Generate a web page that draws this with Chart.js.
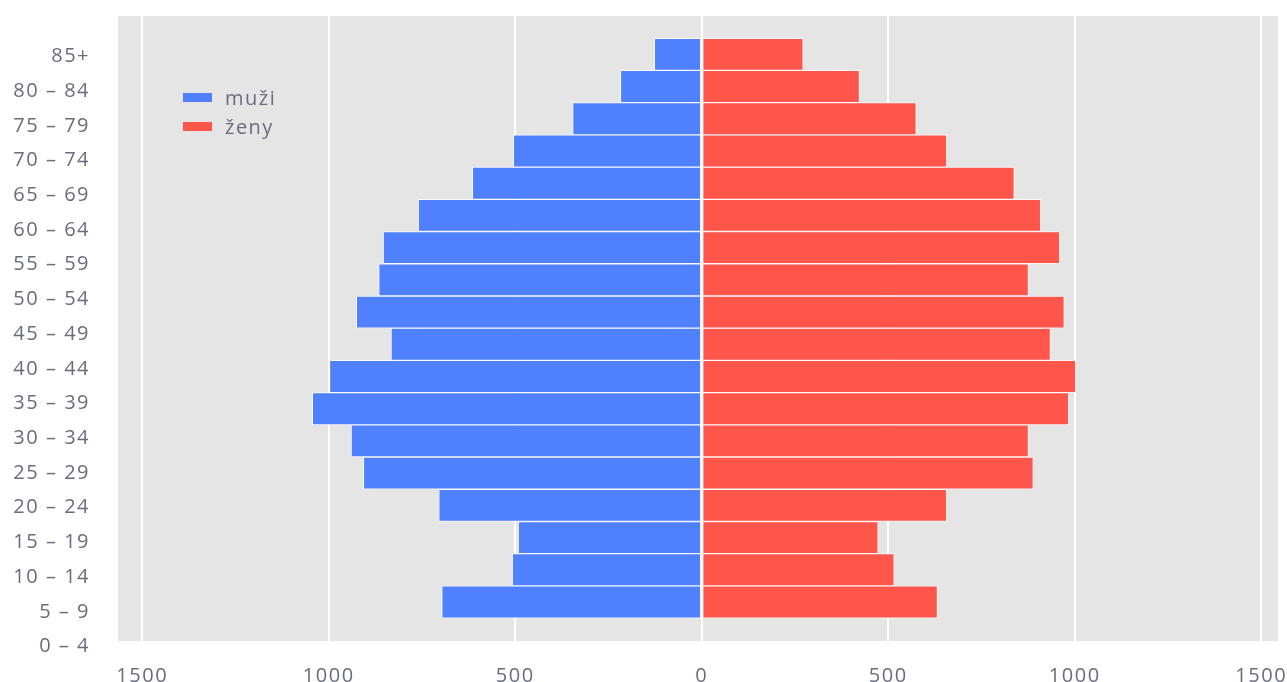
<!DOCTYPE html>
<html>
<head>
<meta charset="utf-8">
<script src="https://cdn.jsdelivr.net/npm/chart.js@4"></script>
<style>
  body { margin: 0; background: #fff; }
  #wrap { position: relative; width: 1287px; height: 682px; }
  #legend { position: absolute; left: 183px; top: 83px; font: 20px "Open Sans", sans-serif; letter-spacing: 1.5px; color: #6b6b7e; }
  #legend div { height: 29px; display: flex; align-items: center; }
  #legend span.box { display: inline-block; width: 29px; height: 9px; margin-right: 13px; }
</style>
</head>
<body>
<div id="wrap">
  <canvas id="pyramid" width="1287" height="682"></canvas>
  <div id="legend"></div>
</div>
<script>
// age groups, bottom to top
const ageGroups = ["0 – 4", "5 – 9", "10 – 14", "15 – 19", "20 – 24", "25 – 29", "30 – 34", "35 – 39",
  "40 – 44", "45 – 49", "50 – 54", "55 – 59", "60 – 64", "65 – 69", "70 – 74", "75 – 79", "80 – 84", "85+"];
const male = [697, 508, 492, 705, 907, 940, 1044, 998, 833, 926, 866, 854, 760, 615, 505, 346, 218, 127];
const female = [632, 516, 473, 657, 889, 876, 984, 1003, 935, 972, 876, 960, 909, 838, 657, 575, 423, 272];
const xTicks = [-1500, -1000, -500, 0, 500, 1000, 1500];

const seriesNames = ["muži", "ženy"];
const seriesColors = ["#4f81ff", "#ff554a"];
const textColor = "#6b6b7e";

// canvas letter spacing (the reference text is spaced out)
const spacing = {
  id: "spacing",
  beforeUpdate(chart) { chart.ctx.letterSpacing = "1.5px"; },
  beforeDraw(chart) { chart.ctx.letterSpacing = "1.5px"; }
};

// grey plot background
const plotBg = {
  id: "plotBg",
  beforeDraw(chart) {
    const { ctx, chartArea: a } = chart;
    ctx.save();
    ctx.fillStyle = "#e5e5e5";
    ctx.fillRect(a.left, a.top, a.right - a.left, a.bottom - a.top);
    ctx.restore();
  }
};

const ctx = document.getElementById("pyramid").getContext("2d");
const chart = new Chart(ctx, {
  type: "bar",
  data: {
    datasets: [
      {
        label: seriesNames[0],
        data: male.map((v, i) => ({ x: -v, y: i })),
        backgroundColor: seriesColors[0]
      },
      {
        label: seriesNames[1],
        data: female.map((v, i) => ({ x: v, y: i })),
        backgroundColor: seriesColors[1]
      }
    ]
  },
  options: {
    indexAxis: "y",
    responsive: false,
    animation: false,
    layout: { padding: { top: 16, right: 9, left: 0, bottom: 0 } },
    datasets: {
      bar: {
        categoryPercentage: 1,
        barPercentage: 1,
        borderWidth: 1,
        borderColor: "rgba(255,255,255,0.75)",
        borderSkipped: false
      }
    },
    plugins: {
      legend: { display: false },
      tooltip: { enabled: false }
    },
    scales: {
      x: {
        type: "linear",
        min: -1565,
        max: 1545,
        stacked: true,
        grid: { color: "#ffffff", lineWidth: 2, drawTicks: false },
        border: { display: false },
        afterBuildTicks(scale) { scale.ticks = xTicks.map(v => ({ value: v })); },
        afterFit(scale) {
          scale.height = 41;
          scale.paddingLeft = 0;
          scale.paddingRight = 0;
        },
        ticks: {
          padding: 23,
          color: textColor,
          font: { family: "Open Sans", size: 20 },
          callback: v => Math.abs(v)
        }
      },
      y: {
        type: "linear",
        display: false,
        stacked: true,
        offset: false,
        min: -1.21,
        max: 18.19
      },
      yl: {
        type: "category",
        position: "left",
        labels: ageGroups,
        reverse: true,
        offset: true,
        grid: { display: false, drawTicks: false },
        border: { display: false },
        afterFit(scale) {
          scale.width = 118;
          scale.paddingTop = 0;
          scale.paddingBottom = 0;
        },
        ticks: {
          padding: 28,
          labelOffset: 23,
          color: textColor,
          font: { family: "Open Sans", size: 20 }
        }
      }
    }
  },
  plugins: [spacing, plotBg]
});

// legend inside the plot, built from the datasets
const legend = document.getElementById("legend");
chart.data.datasets.forEach(ds => {
  const row = document.createElement("div");
  const box = document.createElement("span");
  box.className = "box";
  box.style.background = ds.backgroundColor;
  row.appendChild(box);
  row.appendChild(document.createTextNode(ds.label));
  legend.appendChild(row);
});
</script>
</body>
</html>
